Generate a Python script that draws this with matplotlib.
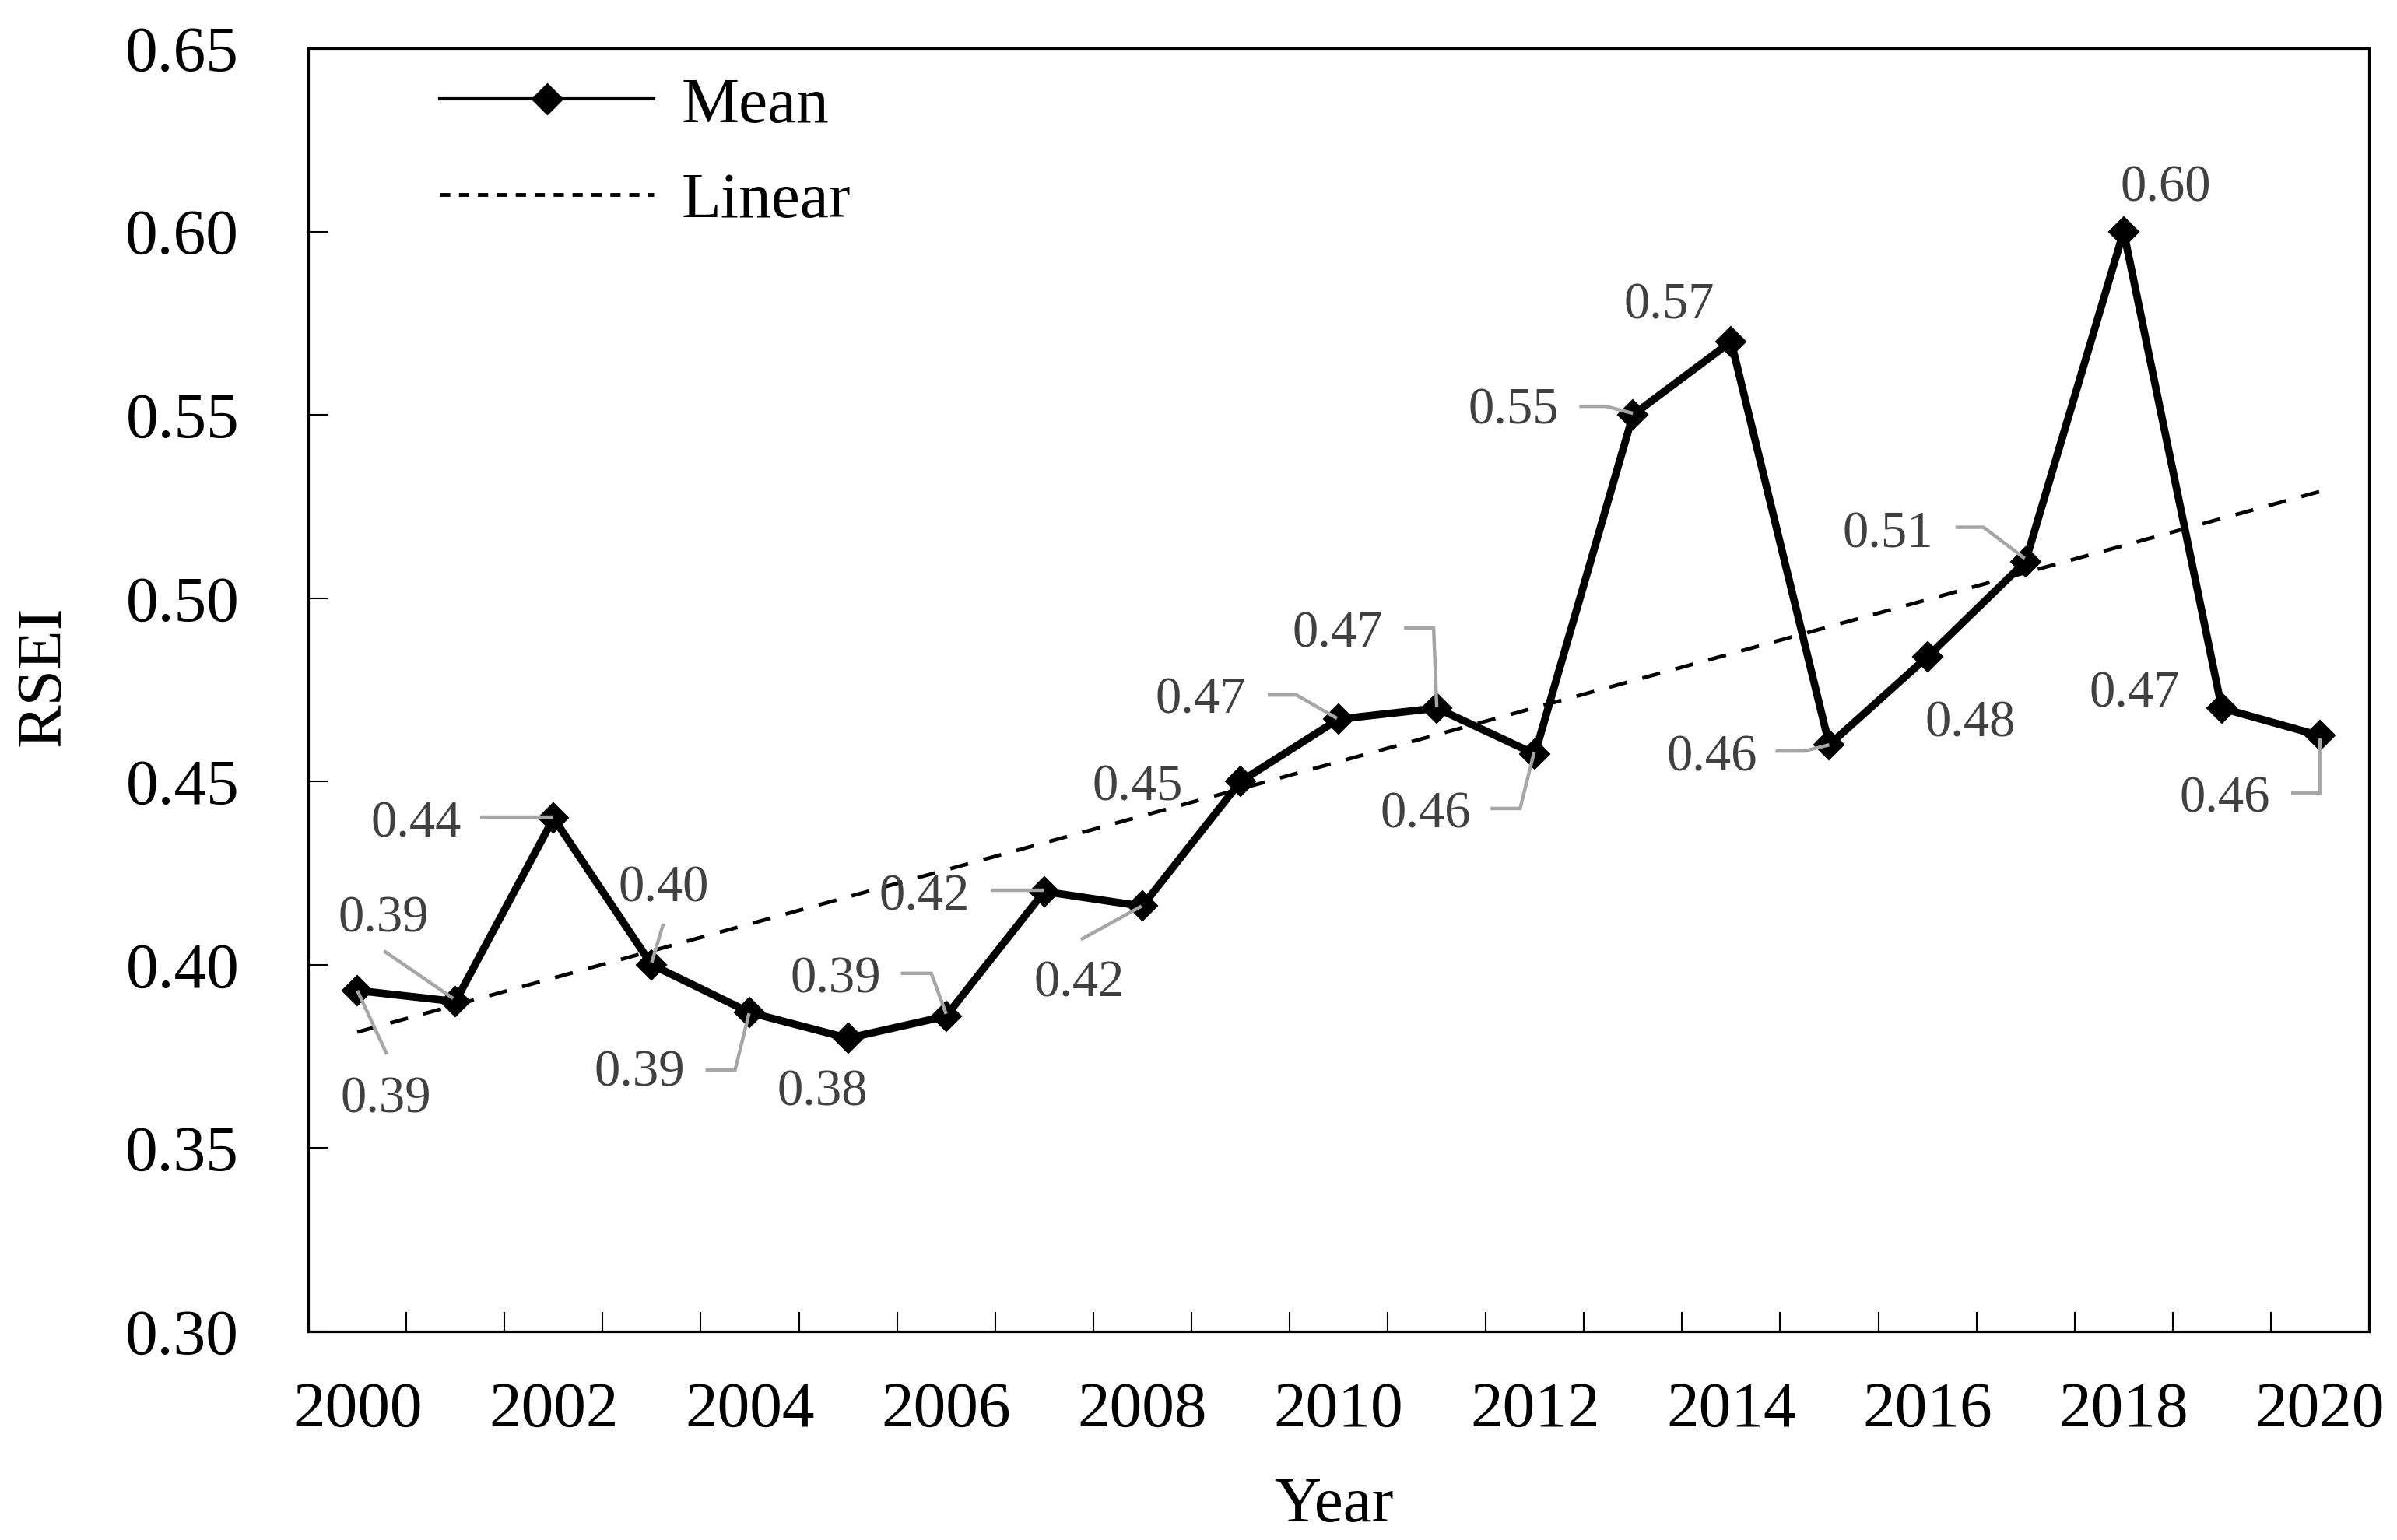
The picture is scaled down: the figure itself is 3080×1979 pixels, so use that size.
import numpy as np
import matplotlib.pyplot as plt
from matplotlib.lines import Line2D

plt.rcParams['font.family'] = ['Liberation Serif', 'DejaVu Serif']

# data
years = list(range(2000, 2021))
rsei_mean = [0.393, 0.390, 0.440, 0.400, 0.387, 0.380, 0.386, 0.420, 0.416, 0.450,
             0.467, 0.470, 0.4575, 0.550, 0.570, 0.460, 0.484, 0.510, 0.600, 0.470, 0.4625]
y_ticks = [0.30, 0.35, 0.40, 0.45, 0.50, 0.55, 0.60, 0.65]
x_tick_years = years[::2]

# data label placement: text centre offset in pixels (right, down) from the point
label_offsets = [(37, 134), (-92, -112), (-177, 2), (15, -104), (-142, 72), (-33, 64),
                 (-142, -53), (-154, 1), (-81, 94), (-132, 2), (-177, -30), (-127, -101),
                 (-140, 72), (-153, -11), (-80, -52), (-151, 11), (55, 80), (-177, -41),
                 (54, -62), (-112, -24), (-122, 76)]
# leader lines, vertex offsets in pixels (right, down); None = no leader
leaders = [[(38, 82), (0, 0)], [(-92, -65), (-3, -4)], [(-94, -1), (0, -1)],
           [(15, -53), (0, -3)], [(-57, 74), (-19, 74), (-1, 1)], None,
           [(-58, -55), (-19, -55), (0, -3)], [(-69, -2), (0, -2)], [(-79, 43), (-1, 0)], None,
           [(-91, -31), (-54, -31), (-2, -1)], [(-42, -103), (-4, -103), (0, -1)],
           [(-57, 70), (-19, 70), (-1, -2)], [(-69, -11), (-35, -11), (0, -2)], None,
           [(-69, 8), (-32, 8), (0, 0)], None, [(-90, -44), (-54, -44), (-1, -4)],
           None, None, [(-37, 74), (0, 74), (0, 4)]]

fig = plt.figure(figsize=(30.8, 19.79), dpi=100)
ax = fig.add_axes([0.1286, 0.1354, 0.8597, 0.8333])
ax.set_xlim(1999.5, 2020.5)
ax.set_ylim(0.30, 0.65)

# linear trend (like the spreadsheet trendline)
coef = np.polyfit(years, rsei_mean, 1)
ax.plot(years, np.polyval(coef, years), color='black', lw=3.4, dashes=(5, 4.3), zorder=2)
ax.plot(years, rsei_mean, color='black', lw=7, marker='D', ms=19, mew=1.5, zorder=3)

for s in ax.spines.values():
    s.set_linewidth(2.3)

ax.set_xticks(x_tick_years)
ax.set_xticklabels([str(y) for y in x_tick_years])
ax.set_xticks(np.arange(2000.5, 2020, 1), minor=True)
ax.tick_params(axis='x', which='major', length=0, pad=46, labelsize=60)
ax.tick_params(axis='x', which='minor', direction='in', length=18, width=1.5)
ax.set_yticks(y_ticks)
ax.yaxis.set_major_formatter('{x:.2f}')
ax.tick_params(axis='y', direction='in', length=18, width=1.5, pad=64, labelsize=60)

# data labels with leader lines
for yr, v, (dx, dy), lead in zip(years, rsei_mean, label_offsets, leaders):
    ax.annotate(f"{v:.2f}", xy=(yr, v), xytext=(dx, -(dy + 6)), textcoords='offset pixels',
                ha='center', va='center', fontsize=48, color='#404040', zorder=6)
    if lead is None:
        continue
    p = ax.transData.transform((yr, v))
    pts = [(p[0] + ox, p[1] - oy) for ox, oy in lead]
    d = ax.transData.inverted().transform(pts)
    ax.plot(d[:, 0], d[:, 1], color='#a6a6a6', lw=3.2, zorder=5, clip_on=False,
            solid_capstyle='butt', solid_joinstyle='miter')

handles = [Line2D([], [], color='black', lw=3, marker='D', ms=20),
           Line2D([], [], color='black', lw=3.5, dashes=(2.7, 2.3))]
ax.legend(handles, ['Mean', 'Linear'], loc='upper left', bbox_to_anchor=(0.0638, 0.978),
          frameon=False, fontsize=60, handlelength=3.3, handletextpad=0.43,
          labelspacing=0.55, borderpad=0, borderaxespad=0)

fig.text(57 / 3080, 1 - 869 / 1979, 'RSEI', rotation=90, ha='center', va='center', fontsize=60)
fig.text(1714 / 3080, 1 - 1935 / 1979, 'Year', ha='center', va='center', fontsize=60)

fig.savefig('out.png', dpi=100)
